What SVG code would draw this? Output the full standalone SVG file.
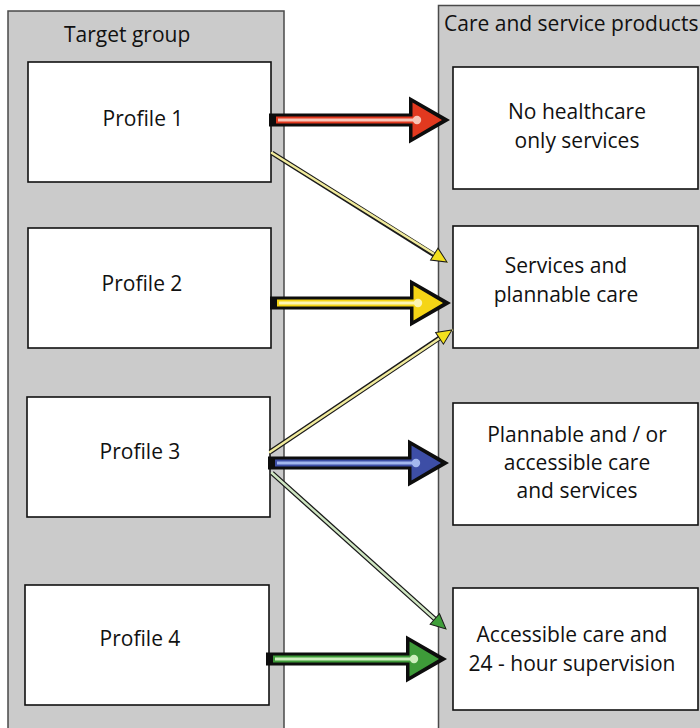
<svg xmlns="http://www.w3.org/2000/svg" width="700" height="728" viewBox="0 0 700 728">
  <style>
    .panel { fill: #cbcbcb; stroke: #4a4a4a; stroke-width: 1.5; }
    .box { fill: #ffffff; stroke: #111111; stroke-width: 1.6; }
    .label { font-family: "Open Sans", "Liberation Sans", sans-serif; font-size: 21px; fill: #111111; text-anchor: middle; }
    .title { font-family: "Open Sans", "Liberation Sans", sans-serif; font-size: 21px; fill: #111111; }
    .outline { fill: #0d0d0d; }
    .thin-outline { stroke: #1a1a1a; stroke-width: 5; fill: none; }
    .thin-core { stroke-width: 2.4; fill: none; stroke-linecap: round; }
  </style>
  <defs>
    <!-- black body of the thick arrow: shaft + head, tip at x=181 -->
    <path id="arrow-outline" d="M0,-6.5 H140 V-23.5 L181,0 L140,23.5 V6.5 H0 Z"/>
    <!-- coloured inner part -->
    <path id="arrow-fill" d="M7,-3.6 H143.5 V-17.5 L173,0 L143.5,17.5 V3.6 H7 Z"/>
    <marker id="tip-yellow" markerUnits="userSpaceOnUse" markerWidth="20" markerHeight="18" refX="16" refY="8" orient="auto">
      <path d="M1,1 L16,8 L1,15 Z" fill="#f3e01e" stroke="#1a1a1a" stroke-width="1"/>
    </marker>
    <marker id="tip-green" markerUnits="userSpaceOnUse" markerWidth="20" markerHeight="18" refX="16" refY="8" orient="auto">
      <path d="M1,1 L16,8 L1,15 Z" fill="#3f9e3a" stroke="#1a1a1a" stroke-width="1"/>
    </marker>
  </defs>

  <!-- column panels -->
  <g id="panel-target">
    <rect class="panel" x="8" y="11" width="276" height="730"/>
    <text class="title" x="64" y="42">Target group</text>
  </g>
  <g id="panel-products">
    <rect class="panel" x="438.5" y="5.5" width="270" height="730"/>
    <text class="title" x="444" y="31">Care and service products</text>
  </g>

  <!-- target profiles -->
  <g id="profile-1">
    <rect class="box" x="28" y="62" width="243" height="120"/>
    <text class="label" x="143" y="126">Profile 1</text>
  </g>
  <g id="profile-2">
    <rect class="box" x="28" y="228" width="243" height="120"/>
    <text class="label" x="142" y="291">Profile 2</text>
  </g>
  <g id="profile-3">
    <rect class="box" x="27" y="397" width="243" height="120"/>
    <text class="label" x="140" y="459">Profile 3</text>
  </g>
  <g id="profile-4">
    <rect class="box" x="25" y="585" width="244" height="120"/>
    <text class="label" x="140" y="646">Profile 4</text>
  </g>

  <!-- products -->
  <g id="product-no-healthcare">
    <rect class="box" x="453" y="67" width="245" height="122"/>
    <text class="label" x="577" y="119">No healthcare</text>
    <text class="label" x="577" y="148">only services</text>
  </g>
  <g id="product-plannable">
    <rect class="box" x="453" y="226" width="245" height="122"/>
    <text class="label" x="566" y="273">Services and</text>
    <text class="label" x="566" y="302">plannable care</text>
  </g>
  <g id="product-accessible">
    <rect class="box" x="453" y="403" width="245" height="122"/>
    <text class="label" x="577" y="442">Plannable and / or</text>
    <text class="label" x="577" y="470">accessible care</text>
    <text class="label" x="577" y="498">and services</text>
  </g>
  <g id="product-supervision">
    <rect class="box" x="453" y="588" width="245" height="122"/>
    <text class="label" x="572" y="642">Accessible care and</text>
    <text class="label" x="572" y="671">24 - hour supervision</text>
  </g>

  <!-- connectors -->
  <g id="connectors">
    <!-- thin secondary links -->
    <line class="thin-outline" x1="272" y1="153" x2="436" y2="256"/>
    <line class="thin-core" stroke="#f1eb9c" x1="272" y1="153" x2="447" y2="262" marker-end="url(#tip-yellow)"/>
    <line class="thin-outline" x1="270" y1="452" x2="441" y2="337"/>
    <line class="thin-core" stroke="#f1eb9c" x1="270" y1="452" x2="452" y2="330" marker-end="url(#tip-yellow)"/>
    <line class="thin-outline" x1="272" y1="473" x2="436" y2="620"/>
    <line class="thin-core" stroke="#cfe6c2" x1="272" y1="473" x2="446" y2="629" marker-end="url(#tip-green)"/>

    <!-- thick main links -->
    <g transform="translate(269,120)">
      <use href="#arrow-outline" class="outline"/>
      <use href="#arrow-fill" fill="#e2391f"/>
      <line x1="9" y1="0" x2="148" y2="0" stroke="#f8c6b8" stroke-width="3"/>
      <circle cx="148" cy="0" r="4.2" fill="#f8c6b8"/>
    </g>
    <g transform="translate(270,303)">
      <use href="#arrow-outline" class="outline"/>
      <use href="#arrow-fill" fill="#f5d516"/>
      <line x1="9" y1="0" x2="148" y2="0" stroke="#fdf5b4" stroke-width="3"/>
      <circle cx="148" cy="0" r="4.2" fill="#fdf5b4"/>
    </g>
    <g transform="translate(268,463)">
      <use href="#arrow-outline" class="outline"/>
      <use href="#arrow-fill" fill="#3d4ea6"/>
      <line x1="9" y1="0" x2="148" y2="0" stroke="#a3b7ee" stroke-width="3"/>
      <circle cx="148" cy="0" r="4.2" fill="#a3b7ee"/>
    </g>
    <g transform="translate(266,659)">
      <use href="#arrow-outline" class="outline"/>
      <use href="#arrow-fill" fill="#3e9b39"/>
      <line x1="9" y1="0" x2="148" y2="0" stroke="#cdeebd" stroke-width="3"/>
      <circle cx="148" cy="0" r="4.2" fill="#cdeebd"/>
    </g>
  </g>
</svg>
